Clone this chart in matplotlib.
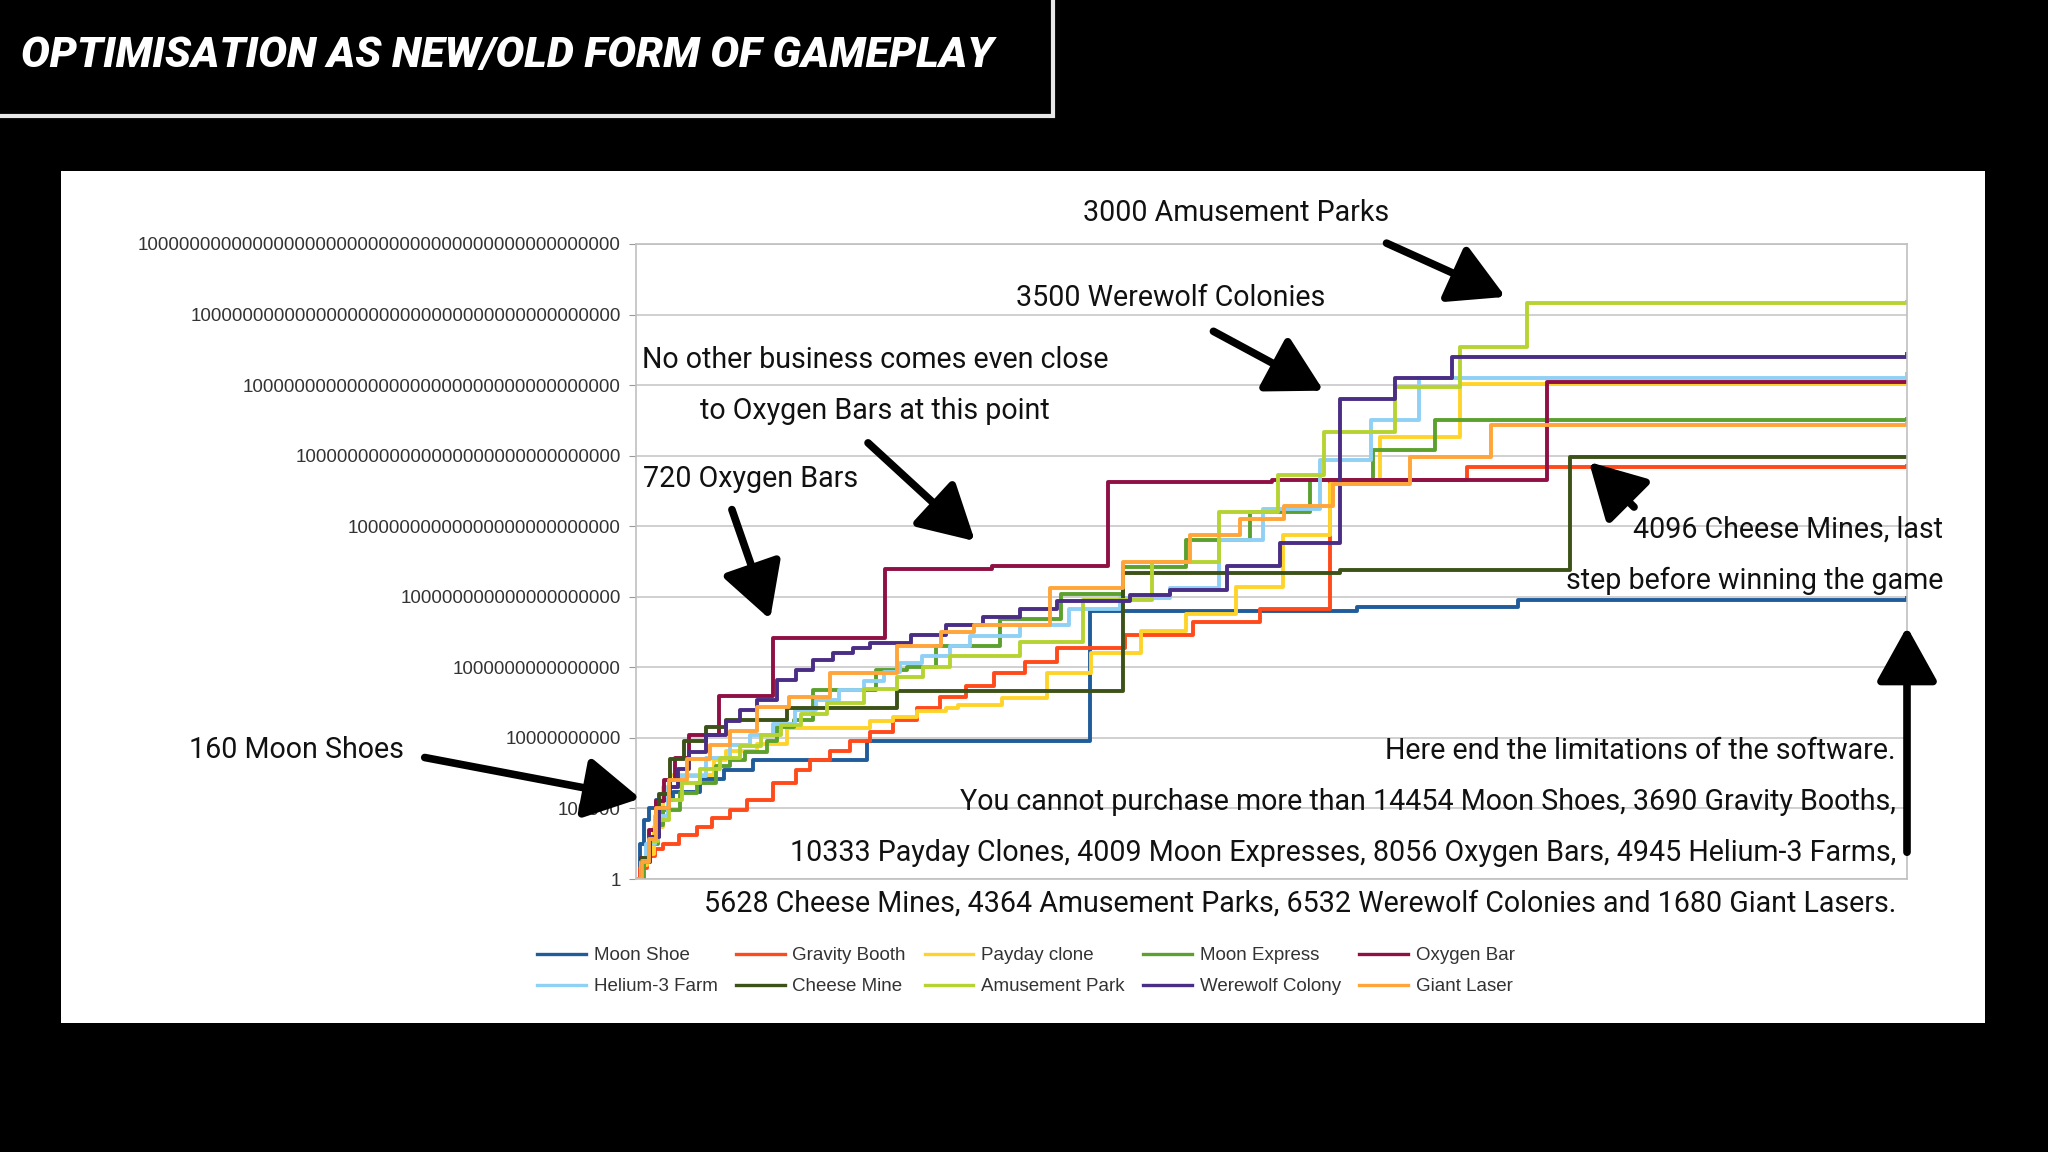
import numpy as np
import matplotlib.pyplot as plt
from matplotlib.patches import Rectangle, FancyArrowPatch

plt.rcParams['font.family'] = ['Liberation Sans', 'DejaVu Sans']

# progress along the game (0..100) and log10 of money per series
moon_shoe_x = [0, 0.3, 0.6, 1.0, 1.6, 2.9, 5.0, 6.9, 9.2, 18.2, 35.7, 56.7, 69.4, 100]
moon_shoe_e = [0, 2.5, 4.2, 5.0, 5.6, 6.2, 7.1, 7.7, 8.4, 9.8, 19.0, 19.3, 19.8, 19.9]

gravity_x = [0, 0.3, 0.84, 1.5, 2.15, 3.4, 4.77, 6.0, 7.4, 8.7, 10.8, 12.6, 13.7, 15.3, 16.8,
             18.4, 20.2, 22.1, 23.9, 26.0, 28.2, 30.6, 33.1, 38.5, 43.8, 49.1, 54.6, 65.4, 100]
gravity_e = [0, 0.8, 1.6, 2.1, 2.5, 3.1, 3.7, 4.3, 4.9, 5.6, 6.8, 7.7, 8.4, 9.1, 9.8,
             10.4, 11.3, 12.1, 12.9, 13.7, 14.6, 15.4, 16.4, 17.3, 18.2, 19.1, 28.3, 29.2, 29.3]

payday_x = [0, 0.5, 0.84, 1.4, 2.15, 2.7, 6.1, 7.1, 9.5, 11.9, 18.4, 20.2, 22.1, 24.4, 25.3,
            28.8, 32.3, 35.8, 39.7, 43.3, 47.2, 50.9, 54.6, 58.5, 64.8, 100]
payday_e = [0, 1.0, 1.8, 3.7, 6.5, 7.4, 8.4, 9.1, 9.6, 10.7, 11.2, 11.5, 11.9, 12.1, 12.3,
            12.8, 14.6, 16.0, 17.6, 18.8, 20.7, 24.4, 28.0, 31.3, 35.1, 35.1]

express_x = [0, 0.6, 1.1, 1.7, 2.15, 3.5, 4.8, 6.3, 7.4, 8.6, 10.3, 11.1, 12.4, 13.9, 18.9,
             21.3, 23.6, 28.6, 33.4, 38.3, 43.3, 48.3, 53.0, 58.0, 62.9, 100]
express_e = [0, 1.2, 2.5, 3.8, 4.9, 6.1, 6.8, 8.0, 8.4, 9.0, 9.8, 10.8, 11.3, 13.4, 14.8,
             15.0, 16.5, 18.4, 20.2, 22.1, 24.0, 26.0, 28.3, 30.4, 32.5, 32.6]

oxygen_x = [0, 0.4, 1.0, 1.6, 2.2, 3.1, 4.2, 6.5, 10.8, 19.6, 28.0, 37.1, 50.0, 71.7, 100]
oxygen_e = [0, 1.5, 3.5, 5.5, 7.0, 8.6, 10.2, 13.0, 17.1, 22.0, 22.2, 28.1, 28.3, 35.2, 35.4]

helium_x = [0, 0.4, 0.8, 1.5, 2.5, 3.5, 5.5, 7.4, 9.0, 10.8, 12.5, 14.2, 16.0, 17.9, 19.5,
            20.8, 22.5, 24.7, 26.3, 30.2, 34.1, 38.1, 42.0, 45.9, 49.3, 53.8, 57.8, 61.6, 100]
helium_e = [0, 1.2, 2.5, 4.5, 6.5, 7.3, 8.6, 9.5, 10.2, 11.0, 12.0, 12.7, 13.4, 14.0, 14.7,
            15.3, 15.8, 16.5, 17.2, 18.0, 19.1, 19.9, 20.6, 24.0, 26.2, 29.7, 32.5, 35.5, 35.8]

cheese_x = [0, 0.5, 1.0, 1.8, 2.7, 3.8, 5.5, 7.1, 11.9, 20.5, 38.3, 55.4, 73.5, 100]
cheese_e = [0, 1.5, 3.0, 6.0, 8.5, 9.8, 10.8, 11.3, 12.1, 13.3, 21.7, 21.9, 29.9, 29.9]

amusement_x = [0, 0.5, 1.0, 1.7, 2.6, 3.6, 5.0, 6.6, 8.2, 9.8, 11.4, 13.0, 15.0, 17.9, 20.5,
               22.6, 24.7, 30.2, 35.2, 40.6, 45.9, 50.5, 54.1, 59.7, 64.8, 70.1, 100]
amusement_e = [0, 1.3, 2.7, 4.2, 5.6, 6.8, 7.8, 8.6, 9.4, 10.2, 10.9, 11.7, 12.5, 13.5, 14.3,
               15.0, 15.8, 16.8, 19.8, 22.5, 26.0, 28.6, 31.7, 34.9, 37.7, 40.8, 40.9]

werewolf_x = [0, 0.5, 1.1, 1.8, 2.6, 3.3, 4.2, 5.5, 7.1, 8.2, 9.5, 11.1, 12.6, 13.9, 15.5,
              17.1, 18.4, 21.6, 24.4, 27.3, 30.2, 33.1, 38.9, 42.0, 46.5, 50.7, 55.4, 59.7, 64.2, 100]
werewolf_e = [0, 1.2, 3.0, 5.0, 6.5, 7.8, 9.0, 10.2, 11.2, 12.0, 12.7, 14.1, 14.8, 15.5, 16.0,
              16.4, 16.7, 17.3, 18.0, 18.6, 19.1, 19.7, 20.1, 20.5, 22.2, 23.8, 34.0, 35.5, 37.0, 37.2]

laser_x = [0, 0.5, 1.0, 1.6, 2.6, 4.0, 5.8, 7.4, 9.5, 12.0, 15.3, 20.5, 24.0, 26.6, 32.6,
           38.3, 43.6, 47.5, 51.0, 54.8, 60.9, 67.3, 100]
laser_e = [0, 1.2, 2.8, 5.0, 7.0, 8.5, 9.5, 10.5, 12.2, 12.9, 14.6, 16.5, 17.5, 18.0, 20.6,
           22.5, 24.4, 25.5, 26.4, 28.0, 29.9, 32.2, 32.3]

names = ['Moon Shoe', 'Gravity Booth', 'Payday clone', 'Moon Express', 'Oxygen Bar',
         'Helium-3 Farm', 'Cheese Mine', 'Amusement Park', 'Werewolf Colony', 'Giant Laser']
xs = [moon_shoe_x, gravity_x, payday_x, express_x, oxygen_x,
      helium_x, cheese_x, amusement_x, werewolf_x, laser_x]
es = [moon_shoe_e, gravity_e, payday_e, express_e, oxygen_e,
      helium_e, cheese_e, amusement_e, werewolf_e, laser_e]
colors = ['#1f5c99', '#ff4a1c', '#ffd42a', '#5ca12e', '#8e1044',
          '#8fd0f5', '#3d5218', '#b5d433', '#4a2d85', '#ffa53a']

tick_exp = list(range(0, 50, 5))
tick_labels = ['1' + '0' * k for k in tick_exp]

notefont = ['Roboto', 'DejaVu Sans']

fig = plt.figure(figsize=(20.48, 11.52), dpi=100, facecolor='black')

# white slide panel and title box
fig.add_artist(Rectangle((0.0298, 0.112), 0.9395, 0.7396, transform=fig.transFigure,
                         facecolor='white', edgecolor='none', zorder=0))
fig.add_artist(Rectangle((-0.01, 0.899), 0.524, 0.12, transform=fig.transFigure,
                         fill=False, edgecolor='#e8e8e8', lw=3, zorder=1))
fig.text(21 / 2048, 1 - 56 / 1152, 'OPTIMISATION AS NEW/OLD FORM OF GAMEPLAY', color='white',
         fontsize=31, fontweight='heavy', fontstyle='italic', family=notefont, va='center')

ax = fig.add_axes([636 / 2048, 1 - 879 / 1152, (1907 - 636) / 2048, (879 - 244) / 1152])
ax.set_facecolor('white')
handles = []
for x, e, c, n in zip(xs, es, colors, names):
    h, = ax.step(x, 10.0 ** np.array(e), where='post', color=c, lw=2.8, label=n)
    handles.append(h)

ax.set_yscale('log')
ax.set_ylim(1, 1e45)
ax.set_xlim(0, 100)
ax.set_yticks([10.0 ** k for k in tick_exp], tick_labels)
ax.minorticks_off()
ax.set_xticks([])
ax.tick_params(axis='y', labelsize=13.5, labelcolor='#333333', color='#999999', length=5, pad=6)
ax.yaxis.grid(True, color='#c8c8c8', lw=1.2)
ax.set_axisbelow(True)
for s in ax.spines.values():
    s.set_color('#c0c0c0')
    s.set_linewidth(1.2)

# legend filled row by row like the original
order = [0, 5, 1, 6, 2, 7, 3, 8, 4, 9]
leg = fig.legend([handles[i] for i in order], [names[i] for i in order], ncol=5, loc='center',
                 bbox_to_anchor=(1026 / 2048, 0.157), frameon=False, fontsize=13.5,
                 handlelength=2.6, columnspacing=1.0, handletextpad=0.4, labelspacing=0.75,
                 labelcolor='#333333')
for line in leg.get_lines():
    line.set_linewidth(2.4)

notes = [
    ('3000 Amusement Parks', 1236, 213, 'center'),
    ('3500 Werewolf Colonies', 1171, 298, 'center'),
    ('No other business comes even close', 875, 360, 'center'),
    ('to Oxygen Bars at this point', 875, 411, 'center'),
    ('720 Oxygen Bars', 751, 479, 'center'),
    ('160 Moon Shoes', 296, 750, 'center'),
    ('4096 Cheese Mines, last', 1943, 530, 'right'),
    ('step before winning the game', 1943, 581, 'right'),
    ('Here end the limitations of the software.', 1896, 751, 'right'),
    ('You cannot purchase more than 14454 Moon Shoes, 3690 Gravity Booths,', 1896, 802, 'right'),
    ('10333 Payday Clones, 4009 Moon Expresses, 8056 Oxygen Bars, 4945 Helium-3 Farms,', 1896, 853, 'right'),
    ('5628 Cheese Mines, 4364 Amusement Parks, 6532 Werewolf Colonies and 1680 Giant Lasers.', 1896, 904, 'right'),
]
for t, x, y, ha in notes:
    fig.text(x / 2048, 1 - y / 1152, t, fontsize=20.6, family=notefont, color='#111111',
             ha=ha, va='center', zorder=5)

arrows = [((1384, 242), (1508, 298)), ((1211, 330), (1326, 392)), ((866, 441), (977, 543)),
          ((731, 507), (771, 622)), ((422, 757), (643, 799)), ((1636, 509), (1587, 460)),
          ((1907, 855), (1907, 624))]
for (x0, y0), (x1, y1) in arrows:
    fig.add_artist(FancyArrowPatch((x0 / 2048, 1 - y0 / 1152), (x1 / 2048, 1 - y1 / 1152),
                                   transform=fig.transFigure, arrowstyle='-|>,head_length=0.45,head_width=0.25',
                                   mutation_scale=75, lw=5.5, color='black', zorder=6))

plt.savefig('out.png', dpi=100, facecolor='black')
